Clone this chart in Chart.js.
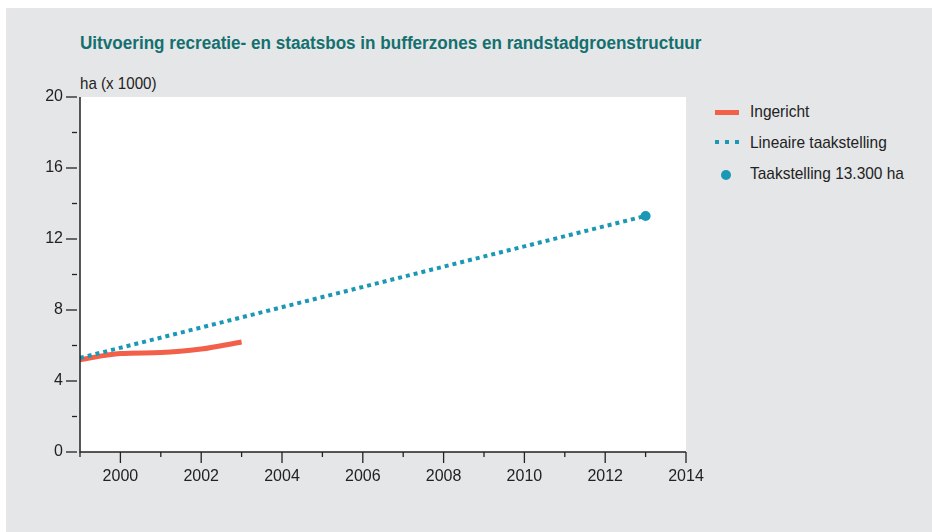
<!DOCTYPE html>
<html>
<head>
<meta charset="utf-8">
<script src="https://cdn.jsdelivr.net/npm/chart.js@4.4.1/dist/chart.umd.min.js"></script>
<style>
  html, body { margin: 0; padding: 0; background: #fff; }
  body { width: 932px; height: 532px; position: relative; overflow: hidden;
         font-family: 'Liberation Sans', Arial, sans-serif; color: #222; }
  #paneel { position: absolute; left: 6px; top: 8px; width: 926px; height: 524px; background: #e5e6e8; }
  #titel { position: absolute; left: 80px; top: 33px; font-size: 18px; font-weight: bold; color: #14706f;
           white-space: nowrap; transform: scaleX(0.95); transform-origin: left center; }
  #eenheid { position: absolute; left: 80px; top: 74px; font-size: 17px; white-space: nowrap;
             transform: scaleX(0.89); transform-origin: left center; }
  #legenda { position: absolute; left: 714px; top: 101px; font-size: 17px; }
  .rij { position: relative; height: 31px; }
  .rij span.tekst { position: absolute; left: 36px; top: 1px; white-space: nowrap;
                    transform: scaleX(0.91); transform-origin: left center; }
  .lijn { position: absolute; left: 1px; top: 9px; width: 24px; height: 5px; background: #f26049; }
  .dot { position: absolute; left: 7px; width: 10px; height: 10px; border-radius: 50%; background: #1a98b5; top: 7px; }
  canvas { position: absolute; left: 0; top: 0; }
</style>
</head>
<body>
<div id="paneel"></div>
<div id="titel">Uitvoering recreatie- en staatsbos in bufferzones en randstadgroenstructuur</div>
<div id="eenheid">ha (x 1000)</div>
<div id="legenda">
  <div class="rij"><div class="lijn"></div><span class="tekst">Ingericht</span></div>
  <div class="rij"><svg style="position:absolute;left:1px;top:8px" width="26" height="6">
      <rect x="0" y="0" width="4" height="4" fill="#1a98b5"/>
      <rect x="10" y="0" width="4" height="4" fill="#1a98b5"/>
      <rect x="20" y="0" width="4" height="4" fill="#1a98b5"/></svg>
    <span class="tekst">Lineaire taakstelling</span></div>
  <div class="rij"><div class="dot"></div><span class="tekst">Taakstelling 13.300 ha</span></div>
</div>
<canvas id="grafiek" width="932" height="532"></canvas>
<script>
// jaren en waarden (ha x 1000)
const jarenIngericht = [1999, 2000, 2001, 2002, 2003];
const ingericht = [5.2, 5.55, 5.6, 5.8, 6.2];
const jarenLineair = [1999, 2013];
const lineair = [5.3, 13.3];
const jaarTaak = 2013;
const taakstelling = 13.3;

const rood = '#f26049';
const blauw = '#1a98b5';
const fontNaam = "'Liberation Sans', Arial, sans-serif";

// witte plotvlak + assen met lange en korte streepjes
const assenPlugin = {
  id: 'assen',
  beforeDraw(chart) {
    const {ctx, chartArea: a} = chart;
    ctx.save();
    ctx.fillStyle = '#fff';
    ctx.fillRect(a.left, a.top, a.right - a.left, a.bottom - a.top);
    ctx.restore();
  },
  afterDraw(chart) {
    const {ctx, chartArea: a, scales} = chart;
    ctx.save();
    ctx.strokeStyle = '#222';
    ctx.lineWidth = 1.5;
    ctx.beginPath();
    ctx.moveTo(a.left, a.top);
    ctx.lineTo(a.left, a.bottom);
    ctx.lineTo(a.right, a.bottom);
    ctx.stroke();
    ctx.lineWidth = 1.3;
    for (let v = 0; v <= 20; v += 2) {
      const y = scales.y.getPixelForValue(v);
      const lang = v % 4 === 0;
      ctx.beginPath();
      ctx.moveTo(a.left - (lang ? 14 : 8), y);
      ctx.lineTo(a.left - 3, y);
      ctx.stroke();
    }
    for (let j = 1999; j <= 2014; j++) {
      const x = scales.x.getPixelForValue(j);
      const lang = j % 2 === 0;
      ctx.beginPath();
      ctx.moveTo(x, a.bottom);
      ctx.lineTo(x, a.bottom + (lang ? 11 : 5));
      ctx.stroke();
    }
    ctx.restore();
  }
};

new Chart(document.getElementById('grafiek'), {
  type: 'line',
  data: {
    datasets: [
      {
        label: 'Ingericht',
        data: jarenIngericht.map((j, i) => ({x: j, y: ingericht[i]})),
        borderColor: rood,
        borderWidth: 5,
        pointRadius: 0,
        cubicInterpolationMode: 'monotone',
        order: 2
      },
      {
        label: 'Lineaire taakstelling',
        data: jarenLineair.map((j, i) => ({x: j, y: lineair[i]})),
        borderColor: blauw,
        borderWidth: 4,
        borderDash: [4, 4],
        borderCapStyle: 'butt',
        pointRadius: 0,
        order: 1
      },
      {
        label: 'Taakstelling 13.300 ha',
        data: [{x: jaarTaak, y: taakstelling}],
        showLine: false,
        pointRadius: 5,
        pointBackgroundColor: blauw,
        pointBorderWidth: 0,
        order: 0
      }
    ]
  },
  options: {
    responsive: false,
    animation: false,
    layout: {padding: {left: 0, top: 97, right: 246, bottom: 0}},
    plugins: {legend: {display: false}, tooltip: {enabled: false}},
    scales: {
      x: {
        type: 'linear',
        min: 1999,
        max: 2014,
        afterFit: s => { s.height = 80; },
        grid: {display: false, drawTicks: false},
        border: {display: false},
        ticks: {
          stepSize: 1,
          autoSkip: false,
          maxRotation: 0,
          padding: 15,
          color: '#222',
          font: {family: fontNaam, size: 16},
          callback: v => (v % 2 === 0 ? String(v) : '')
        }
      },
      y: {
        min: 0,
        max: 20,
        afterFit: s => { s.width = 80; },
        grid: {display: false, drawTicks: false},
        border: {display: false},
        ticks: {
          stepSize: 2,
          padding: 17,
          color: '#222',
          font: {family: fontNaam, size: 16},
          callback: v => (v % 4 === 0 ? String(v) : '')
        }
      }
    }
  },
  plugins: [assenPlugin]
});
</script>
</body>
</html>
